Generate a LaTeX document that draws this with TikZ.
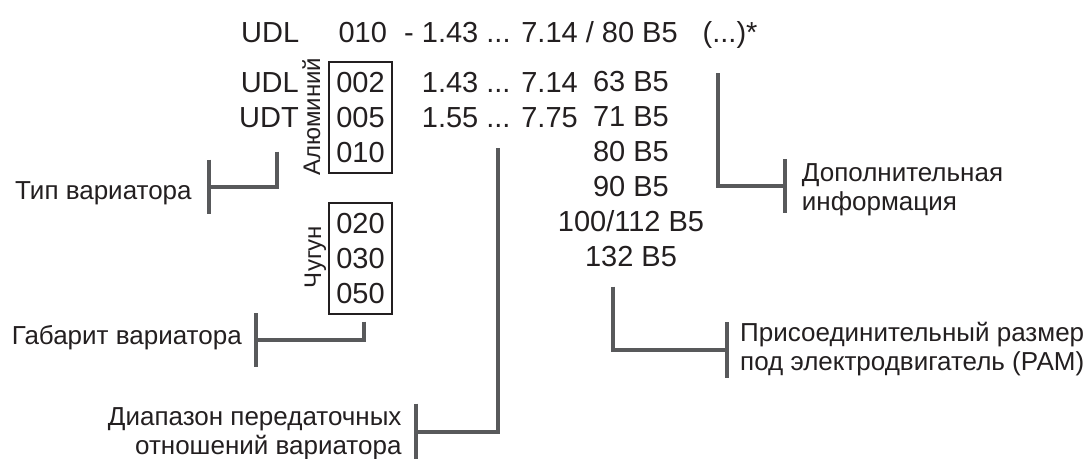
\documentclass[tikz,border=0pt]{standalone}
\usepackage{fontspec}
\setmainfont{Liberation Sans}
\usetikzlibrary{positioning}
\definecolor{ddink}{HTML}{231F20}
\definecolor{ddgray}{HTML}{58595B}
\newcommand{\CodeFont}{\fontsize{29}{35}\selectfont}
\newcommand{\NoteFont}{\fontsize{26}{28.3}\selectfont}
\newcommand{\SideFont}{\fontsize{24}{24}\selectfont}

\begin{document}
\begin{tikzpicture}[
  x=1pt,
  y=-1pt,
  code/.style={font=\CodeFont, text=ddink, inner sep=0pt},
  note/.style={font=\NoteFont, text=ddink, inner sep=0pt},
  sidelabel/.style={font=\SideFont, text=ddink, inner sep=0pt, rotate=90, anchor=base},
  numbox/.style={draw=ddink, line width=2pt, font=\CodeFont, text=ddink, align=center,
    inner xsep=7pt, inner ysep=10pt, anchor=north},
  leader/.style={draw=ddgray, line width=4pt}
]
\useasboundingbox (0,0) rectangle (1086,458);

% full designation
\node[code, anchor=base west] (series) at (241,42) {UDL};
\node[code, anchor=base west] (size) at (338.3,42) {010};
\node[code, anchor=base west] (ratio) at (404,42) {- 1.43 ... 7.14 / 80 B5};
\node[code, anchor=base west] (extra) at (702.5,42) {(...)*};

% options
\node[code, anchor=base east] (udl) at (299,92) {UDL};
\node[code, anchor=base east] (udt) at (299,127) {UDT};
\node[numbox] (alubox) at (360.5,61) {002\\005\\010};
\node[numbox] (castbox) at (360.5,202) {020\\030\\050};
\node[sidelabel] (alu) at (320,116.5) {Алюминий};
\node[sidelabel] (cast) at (321,257) {Чугун};
\node[code, anchor=base west] (range1) at (421.7,92) {1.43 ... 7.14};
\node[code, anchor=base west] (range2) at (421.7,127) {1.55 ... 7.75};
\foreach \pam [count=\i] in {63 B5, 71 B5, 80 B5, 90 B5, 100/112 B5, 132 B5}
  \node[code, anchor=base] (pam\i) at (631,56.7+35*\i) {\pam};

% captions (base = last line)
\node[note, anchor=base west] (typlabel) at (15,199.3) {Тип вариатора};
\node[note, anchor=base west] (sizelabel) at (11.7,344) {Габарит вариатора};
\node[note, align=right, anchor=base east] (rangelabel) at (401.7,454) {Диапазон передаточных\\отношений вариатора};
\node[note, align=left, anchor=base west] (extralabel) at (801.7,210) {Дополнительная\\информация};
\node[note, align=left, anchor=base west] (pamlabel) at (740,370) {Присоединительный размер\\под электродвигатель (РАМ)};

% leaders
\coordinate (typtip) at (276.7,151.7);
\coordinate (typtee) at (209.3,186.7);
\coordinate (sizetip) at (364,321.7);
\coordinate (sizetee) at (256,340);
\coordinate (rangetip) at (498.3,148.3);
\coordinate (rangetee) at (415.7,431.7);
\coordinate (extratip) at (717.7,73.3);
\coordinate (extratee) at (785.3,186);
\coordinate (pamtip) at (613,286.7);
\coordinate (pamtee) at (726.7,350);

\draw[leader] (typtip) |- (typtee);
\draw[leader] (typtee) ++(0,-27) -- ++(0,54);
\draw[leader] (sizetip) |- (sizetee);
\draw[leader] (sizetee) ++(0,-27) -- ++(0,54);
\draw[leader] (rangetip) |- (rangetee);
\draw[leader] (rangetee) ++(0,-28) -- ++(0,56);
\draw[leader] (extratip) |- (extratee);
\draw[leader] (extratee) ++(0,-27) -- ++(0,54);
\draw[leader] (pamtip) |- (pamtee);
\draw[leader] (pamtee) ++(0,-28) -- ++(0,56);
\end{tikzpicture}
\end{document}
